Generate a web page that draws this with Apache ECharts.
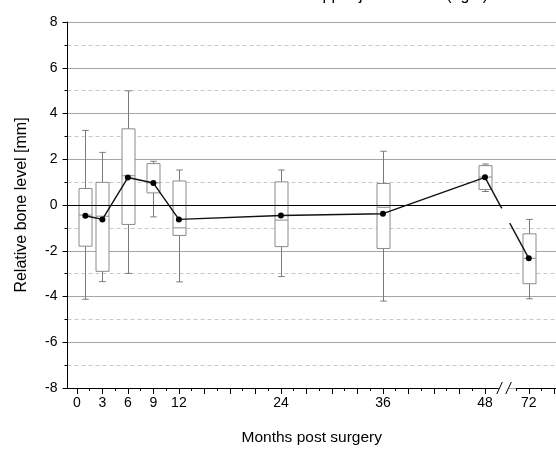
<!DOCTYPE html>
<html><head><meta charset="utf-8">
<script src="https://cdn.jsdelivr.net/npm/echarts@6.0.0/dist/echarts.min.js"></script>
<style>html,body{margin:0;padding:0;background:#fff}#c{width:556px;height:451px}</style>
</head><body><div id="c"></div>
<script>
// ---- data ----
const months      = [1, 3, 6, 9, 12, 24, 36, 48, 72];
const whiskerLow  = [-4.12, -3.35, -2.99, -0.52, -3.36, -3.13, -4.20, 0.59, -4.10];
const q1          = [-1.80, -2.90, -0.85, 0.53, -1.33, -1.82, -1.90, 0.68, -3.44];
const median      = [-0.44, -0.49, 1.28, 0.97, -1.00, -0.66, -0.10, 1.22, -2.33];
const q3          = [0.72, 0.99, 3.33, 1.81, 1.05, 1.01, 0.94, 1.72, -1.26];
const whiskerHigh = [3.26, 2.30, 4.99, 1.91, 1.53, 1.53, 2.35, 1.79, -0.63];
const mean        = [-0.47, -0.63, 1.20, 0.96, -0.63, -0.46, -0.38, 1.21, -2.33];
const xTickLabels = [0, 3, 6, 9, 12, 24, 36, 48, 72];
const xMajorTicks = [0, 3, 6, 9, 12, 15, 18, 21, 24, 27, 30, 33, 36, 39, 42, 45, 48, 72, 75];
const xMinorTicks = [1.5, 4.5, 7.5, 10.5, 13.5, 16.5, 19.5, 22.5, 25.5, 28.5, 31.5, 34.5, 37.5, 40.5, 43.5, 46.5, 70.5, 73.5];
const axisBreak   = { start: 49.5, end: 70.5, gap: 2.15 };
const titleText   = 'Upper jaw anterior (right)';

const boxData = months.map((m, i) => [m, whiskerLow[i], q1[i], median[i], q3[i], whiskerHigh[i]]);
const meanMain = months.slice(0, 8).map((m, i) => [m, mean[i]]);
const meanLast = [[months[8], mean[8]]];
const bridge = [[months[7], mean[7], months[8], mean[8]]];

const FONT = '"Liberation Sans", Arial, sans-serif';
const chart = echarts.init(document.getElementById('c'), null, { renderer: 'canvas' });

const xCommon = {
  type: 'value', min: -1.1, max: 75.2,
  breaks: [axisBreak],
  breakArea: { show: false },
  splitLine: { show: false }
};

const titleGraphic = { type: 'text', x: 311, y: -4, z: 100, silent: true,
  style: { text: titleText, fontFamily: FONT, fontSize: 16, fill: '#000', align: 'left', verticalAlign: 'middle' } };

const option = {
  animation: false,
  backgroundColor: '#fff',
  grid: { left: 67.5, right: 0, top: 22, bottom: 62, containLabel: false },
  xAxis: [
    Object.assign({}, xCommon, {
      position: 'bottom',
      name: 'Months post surgery', nameLocation: 'middle', nameGap: 42,
      nameTextStyle: { fontFamily: FONT, fontSize: 15.5, color: '#000' },
      axisLine: { show: true, onZero: false, lineStyle: { color: '#000', width: 1 } },
      axisTick: { show: true, inside: false, length: 6, customValues: xMajorTicks, lineStyle: { color: '#000' } },
      axisLabel: { show: true, margin: 8, customValues: xTickLabels, fontFamily: FONT, fontSize: 14, color: '#000' }
    }),
    Object.assign({}, xCommon, {
      position: 'bottom', offset: 0,
      axisLine: { show: false, onZero: false },
      axisTick: { show: true, inside: false, length: 3, customValues: xMinorTicks, lineStyle: { color: '#000' } },
      axisLabel: { show: false }
    })
  ],
  yAxis: {
    type: 'value', min: -8, max: 8, interval: 2,
    name: 'Relative bone level [mm]', nameLocation: 'middle', nameGap: 38,
    nameTextStyle: { fontFamily: FONT, fontSize: 16, color: '#000' },
    axisLine: { show: true, onZero: false, lineStyle: { color: '#000', width: 1 } },
    axisTick: { show: true, inside: false, length: 5, lineStyle: { color: '#000' } },
    minorTick: { show: true, splitNumber: 2, length: 3, lineStyle: { color: '#000' } },
    axisLabel: { margin: 10, fontFamily: FONT, fontSize: 14, color: '#000' },
    splitLine: { show: true, lineStyle: { color: '#a6a6a6', width: 1, type: 'solid' } },
    minorSplitLine: { show: true, lineStyle: { color: '#c8c8c8', width: 1, type: [4, 3] } }
  },
  graphic: [titleGraphic],
  series: [
    {
      type: 'custom', name: 'box', xAxisIndex: 0, z: 2,
      data: boxData,
      renderItem: function (params, api) {
        const x = api.value(0);
        const pLo = api.coord([x, api.value(1)]);
        const pQ1 = api.coord([x, api.value(2)]);
        const pMd = api.coord([x, api.value(3)]);
        const pQ3 = api.coord([x, api.value(4)]);
        const pHi = api.coord([x, api.value(5)]);
        const bw = 13, cw = 6.5;
        const cx = Math.round(pMd[0]) + 0.5;
        const gray = '#8a8a8a', wgray = '#7a7a7a';
        const ls = { stroke: gray, lineWidth: 1, fill: null };
        const ws = { stroke: wgray, lineWidth: 1, fill: null };
        return {
          type: 'group',
          children: [
            { type: 'line', shape: { x1: cx, y1: pHi[1], x2: cx, y2: pQ3[1] }, style: ws },
            { type: 'line', shape: { x1: cx, y1: pQ1[1], x2: cx, y2: pLo[1] }, style: ws },
            { type: 'line', shape: { x1: cx - cw / 2, y1: pHi[1], x2: cx + cw / 2, y2: pHi[1] }, style: ws },
            { type: 'line', shape: { x1: cx - cw / 2, y1: pLo[1], x2: cx + cw / 2, y2: pLo[1] }, style: ws },
            { type: 'rect', shape: { x: cx - bw / 2, y: pQ3[1], width: bw, height: pQ1[1] - pQ3[1] },
              style: { fill: '#fff', stroke: gray, lineWidth: 1 } },
            { type: 'line', shape: { x1: cx - bw / 2, y1: pMd[1], x2: cx + bw / 2, y2: pMd[1] }, style: ls }
          ]
        };
      }
    },
    {
      type: 'line', name: 'mean', xAxisIndex: 0, z: 5,
      data: meanMain,
      symbol: 'circle', symbolSize: 6, showSymbol: true,
      itemStyle: { color: '#000' },
      lineStyle: { color: '#111', width: 1.4 },
      markLine: {
        silent: true, symbol: ['none', 'none'], label: { show: false },
        lineStyle: { color: '#000', width: 1, type: 'solid' },
        data: [{ yAxis: 0 }]
      }
    },
    {
      type: 'line', name: 'meanLast', xAxisIndex: 0, z: 5,
      data: meanLast, symbol: 'circle', symbolSize: 6,
      itemStyle: { color: '#000' }
    },
    {
      type: 'custom', name: 'bridge', xAxisIndex: 0, z: 4,
      data: bridge,
      renderItem: function (params, api) {
        const a = api.coord([api.value(0), api.value(1)]);
        const b = api.coord([api.value(2), api.value(3)]);
        const bs = api.coord([axisBreak.start, 0])[0];
        const g1 = bs + 4, g2 = bs + 12;
        const yAt = x => a[1] + (b[1] - a[1]) * (x - a[0]) / (b[0] - a[0]);
        const st = { stroke: '#111', lineWidth: 1.4, fill: null };
        return {
          type: 'group',
          children: [
            { type: 'line', shape: { x1: a[0], y1: a[1], x2: g1, y2: yAt(g1) }, style: st },
            { type: 'line', shape: { x1: g2, y1: yAt(g2), x2: b[0], y2: b[1] }, style: st }
          ]
        };
      }
    }
  ]
};
chart.setOption(option);

// axis-break marks "//" on the x axis, placed from the axis scale
const bsPx = chart.convertToPixel({ xAxisIndex: 0 }, axisBreak.start);
const axisY = chart.convertToPixel({ yAxisIndex: 0 }, -8);
chart.setOption({
  graphic: [
    titleGraphic,
    { type: 'rect', shape: { x: bsPx + 1, y: axisY - 2, width: 10, height: 4 }, style: { fill: '#fff' }, z: 100 },
    { type: 'line', shape: { x1: bsPx - 1, y1: axisY + 6, x2: bsPx + 4.6, y2: axisY - 6 }, style: { stroke: '#000', lineWidth: 1 }, z: 101 },
    { type: 'line', shape: { x1: bsPx + 8, y1: axisY + 6, x2: bsPx + 13.6, y2: axisY - 6 }, style: { stroke: '#000', lineWidth: 1 }, z: 101 }
  ]
});
</script>
</body></html>
